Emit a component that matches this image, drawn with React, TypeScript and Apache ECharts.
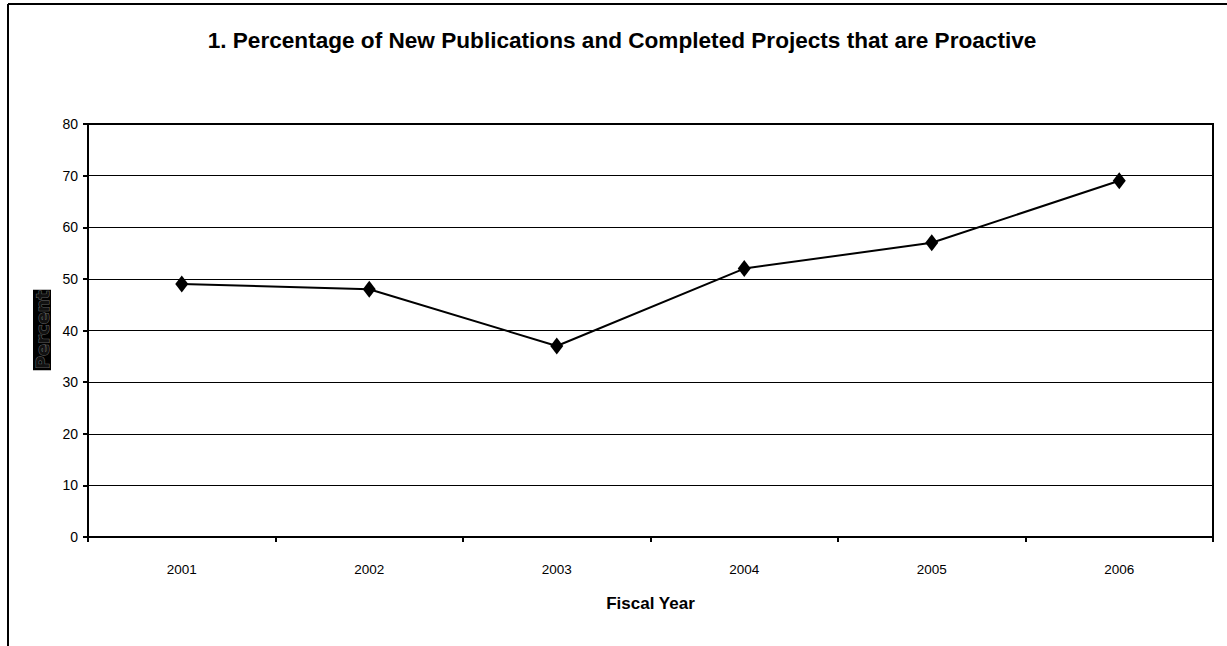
import React, { useEffect, useRef } from "react";
import * as echarts from "echarts";

const categories = ["2001", "2002", "2003", "2004", "2005", "2006"];
const proactivePercent = [49, 48, 37, 52, 57, 69];
const yTicks = { min: 0, max: 80, interval: 10 };

const chartTitle = "1. Percentage of New Publications and Completed Projects that are Proactive";
const xAxisName = "Fiscal Year";
const yAxisName = "Percent";

const SANS = "'Liberation Sans', Arial, sans-serif";

export default function App() {
  const ref = useRef<HTMLDivElement>(null);
  useEffect(() => {
    if (!ref.current) return;
    const chart = echarts.init(ref.current, undefined, { renderer: "svg" });
    chart.setOption({
      animation: false,
      backgroundColor: "#fff",
      title: {
        text: chartTitle,
        left: 617,
        textAlign: "center",
        top: 24,
        textStyle: { fontFamily: SANS, fontWeight: "bold", fontSize: 22.6, color: "#000" },
      },
      grid: {
        left: 88,
        right: 14,
        top: 124,
        bottom: 109,
        show: true,
        borderColor: "#000",
        borderWidth: 2,
        containLabel: false,
      },
      xAxis: {
        type: "category",
        data: categories,
        boundaryGap: true,
        name: xAxisName,
        nameLocation: "middle",
        nameGap: 58,
        nameTextStyle: { fontFamily: SANS, fontWeight: "bold", fontSize: 17, color: "#000" },
        axisLine: { lineStyle: { color: "#000", width: 2 } },
        axisTick: { show: true, alignWithLabel: false, length: 5, inside: false, lineStyle: { color: "#000", width: 2 } },
        axisLabel: { margin: 25, fontFamily: SANS, fontSize: 13.5, color: "#000" },
        splitLine: { show: false },
      },
      yAxis: {
        type: "value",
        min: yTicks.min,
        max: yTicks.max,
        interval: yTicks.interval,
        axisLine: { show: true, lineStyle: { color: "#000", width: 2 } },
        axisTick: { show: true, length: 5, lineStyle: { color: "#000", width: 2 } },
        axisLabel: { margin: 10, fontFamily: SANS, fontSize: 14, color: "#000" },
        splitLine: { show: true, lineStyle: { color: "#000", width: 1 } },
      },
      series: [
        {
          type: "line",
          data: proactivePercent,
          symbol: "diamond",
          symbolSize: [13, 17],
          lineStyle: { color: "#000", width: 2 },
          itemStyle: { color: "#000" },
          z: 5,
        },
      ],
      graphic: [
        { type: "line", shape: { x1: 8, y1: 4, x2: 1227, y2: 4 }, style: { stroke: "#000", lineWidth: 2 } },
        { type: "line", shape: { x1: 8, y1: 4, x2: 8, y2: 646 }, style: { stroke: "#000", lineWidth: 2 } },
        {
          type: "text",
          x: 42,
          y: 330,
          rotation: Math.PI / 2,
          style: {
            text: yAxisName,
            fontFamily: "'DejaVu Sans', sans-serif",
            fontWeight: "bold",
            fontSize: 18,
            fill: "#111",
            stroke: "#666",
            lineWidth: 1,
            textAlign: "center",
            textVerticalAlign: "middle",
            backgroundColor: "#000",
            padding: [0, 1],
          },
        },
      ],
    });
    return () => chart.dispose();
  }, []);
  return (
    <div
      ref={ref}
      style={{ position: "fixed", left: 0, top: 0, width: 1227, height: 646, background: "#fff" }}
    />
  );
}
